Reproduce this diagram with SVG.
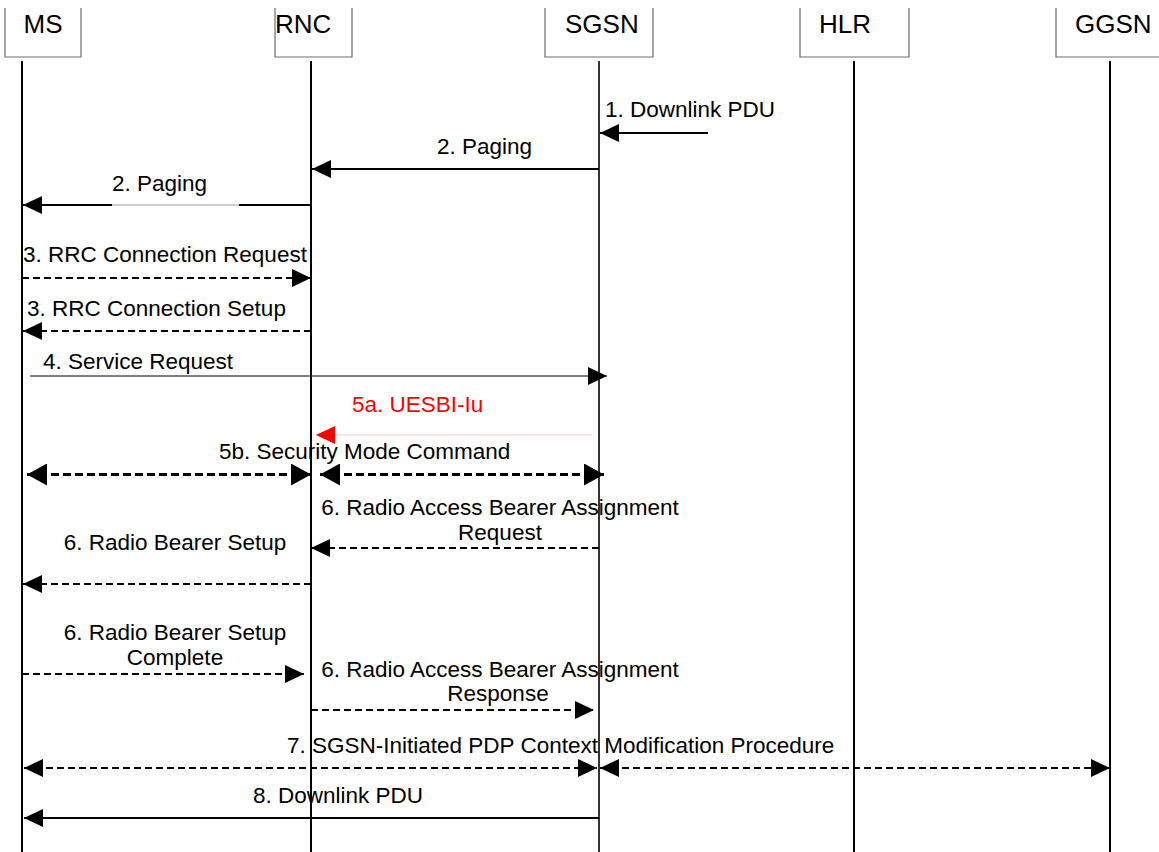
<svg xmlns="http://www.w3.org/2000/svg" width="1159" height="852" viewBox="0 0 1159 852">
<style>
.box{fill:none;stroke:#6e6e6e;stroke-width:1.2}
.hdr{font-family:"Liberation Sans",Arial,sans-serif;font-size:26px;fill:#000}
.life{stroke:#000;stroke-width:2}
.lbl{font-family:"Liberation Sans",Arial,sans-serif;font-size:22.5px;fill:#000}
.red{fill:#ff0000}
.sol{stroke:#000;stroke-width:2;fill:none}
.thin{stroke:#000;stroke-width:1;fill:none}
.dash{stroke:#000;stroke-width:2;stroke-dasharray:7 4;fill:none}
.dash3{stroke:#000;stroke-width:3;stroke-dasharray:8 4;fill:none}
</style>
<defs>
<marker id="ah" viewBox="0 0 19 18" refX="19" refY="9" markerWidth="19" markerHeight="18" markerUnits="userSpaceOnUse" orient="auto-start-reverse">
<path d="M0,0 L19,9 L0,18 Z" fill="#000"/>
</marker>
<marker id="ahb" viewBox="0 0 20 22" refX="20" refY="11" markerWidth="20" markerHeight="22" markerUnits="userSpaceOnUse" orient="auto-start-reverse">
<path d="M0,0 L20,11 L0,22 Z" fill="#000"/>
</marker>
<marker id="ahr" viewBox="0 0 19 18" refX="19" refY="9" markerWidth="19" markerHeight="18" markerUnits="userSpaceOnUse" orient="auto-start-reverse">
<path d="M0,0 L19,9 L0,18 Z" fill="#ff0000"/>
</marker>
</defs>
<rect width="1159" height="852" fill="#fff"/>
<g id="MS">
<path class="box" d="M5,8 V57 H81 V8"/>
<text class="hdr" x="43" y="33" text-anchor="middle">MS</text>
<line class="life" x1="22" y1="61" x2="22" y2="852"/>
</g>
<g id="RNC">
<path class="box" d="M275,8 V57 H352 V8"/>
<text class="hdr" x="275" y="33">RNC</text>
<line class="life" x1="311" y1="61" x2="311" y2="852"/>
</g>
<g id="SGSN">
<path class="box" d="M545,8 V57 H653 V8"/>
<text class="hdr" x="565" y="33">SGSN</text>
<line class="life" x1="599" y1="61" x2="599" y2="852" style="stroke-width:1.6"/>
</g>
<g id="HLR">
<path class="box" d="M800,8 V57 H909 V8"/>
<text class="hdr" x="819" y="33">HLR</text>
<line class="life" x1="854" y1="61" x2="854" y2="852"/>
</g>
<g id="GGSN">
<path class="box" d="M1056,8 V57 H1165"/>
<text class="hdr" x="1075" y="33">GGSN</text>
<line class="life" x1="1110" y1="61" x2="1110" y2="852"/>
</g>
<g id="connectors">
<line class="sol" x1="708" y1="133" x2="600" y2="133" marker-end="url(#ah)"/>
<line class="sol" x1="599" y1="169" x2="312" y2="169" marker-end="url(#ah)"/>
<line class="sol" x1="311" y1="205" x2="239" y2="205"/>
<line x1="239" y1="205" x2="112" y2="205" stroke="#9a9a9a" stroke-width="1"/>
<line class="sol" x1="112" y1="205" x2="23" y2="205" marker-end="url(#ah)"/>
<line class="dash" x1="22" y1="278" x2="311" y2="278" marker-end="url(#ah)"/>
<line class="dash" x1="311" y1="331" x2="23" y2="331" marker-end="url(#ah)"/>
<line class="thin" x1="30" y1="376" x2="607" y2="376" marker-end="url(#ah)"/>
<line x1="592" y1="435" x2="316" y2="435" stroke="#f7c8c8" stroke-width="1" marker-end="url(#ahr)"/>
<line class="dash3" x1="27" y1="474.5" x2="311" y2="474.5" marker-start="url(#ahb)" marker-end="url(#ahb)"/>
<line class="dash3" x1="320" y1="474.5" x2="604" y2="474.5" marker-start="url(#ahb)" marker-end="url(#ahb)"/>
<line class="dash" x1="599" y1="548" x2="311" y2="548" marker-end="url(#ah)"/>
<line class="dash" x1="311" y1="584" x2="23" y2="584" marker-end="url(#ah)"/>
<line class="dash" x1="22" y1="674" x2="304" y2="674" marker-end="url(#ah)"/>
<line class="dash" x1="311" y1="710" x2="594" y2="710" marker-end="url(#ah)"/>
<line class="dash" x1="24" y1="768" x2="597" y2="768" marker-start="url(#ah)" marker-end="url(#ah)"/>
<line class="dash" x1="600" y1="768" x2="1110" y2="768" marker-start="url(#ah)" marker-end="url(#ah)"/>
<line class="sol" x1="599" y1="818" x2="24" y2="818" marker-end="url(#ah)"/>
</g>
<g id="labels">
<text class="lbl" x="605" y="117">1. Downlink PDU</text>
<text class="lbl" x="437" y="154">2. Paging</text>
<text class="lbl" x="112" y="191">2. Paging</text>
<text class="lbl" x="23" y="262">3. RRC Connection Request</text>
<text class="lbl" x="27" y="316">3. RRC Connection Setup</text>
<text class="lbl" x="43" y="369">4. Service Request</text>
<text class="lbl red" x="352" y="412">5a. UESBI-Iu</text>
<text class="lbl" x="219" y="459">5b. Security Mode Command</text>
<text class="lbl" x="500" y="515" text-anchor="middle">6. Radio Access Bearer Assignment</text>
<text class="lbl" x="500" y="540" text-anchor="middle">Request</text>
<text class="lbl" x="175" y="550" text-anchor="middle">6. Radio Bearer Setup</text>
<text class="lbl" x="175" y="640" text-anchor="middle">6. Radio Bearer Setup</text>
<text class="lbl" x="175" y="665" text-anchor="middle">Complete</text>
<text class="lbl" x="500" y="677" text-anchor="middle">6. Radio Access Bearer Assignment</text>
<text class="lbl" x="498" y="701" text-anchor="middle">Response</text>
<text class="lbl" x="287" y="753">7. SGSN-Initiated PDP Context Modification Procedure</text>
<text class="lbl" x="253" y="803">8. Downlink PDU</text>
</g>
</svg>
